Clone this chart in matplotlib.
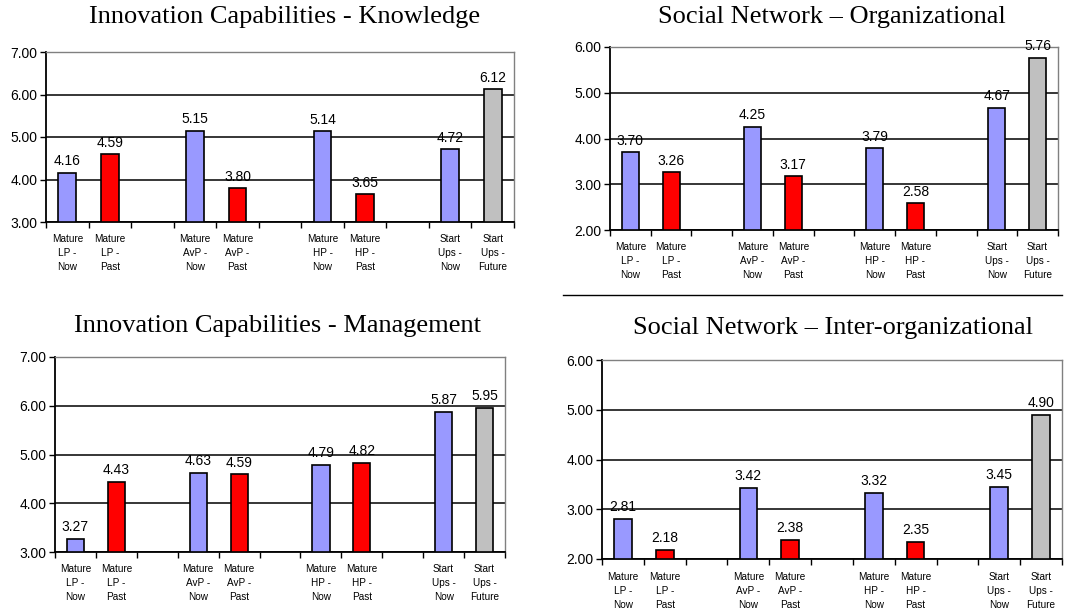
import numpy as np
import matplotlib
matplotlib.use("Agg")
from matplotlib import pyplot as plt
from matplotlib.lines import Line2D

plt.rcParams["font.family"] = ["Liberation Sans", "DejaVu Sans"]

W, H = 1069, 609

categories = [
    "Mature\nLP -\nNow", "Mature\nLP -\nPast", "",
    "Mature\nAvP -\nNow", "Mature\nAvP -\nPast", "",
    "Mature\nHP -\nNow", "Mature\nHP -\nPast", "",
    "Start\nUps -\nNow", "Start\nUps -\nFuture",
]
bar_colors = ["#9999FF", "#FF0000", None, "#9999FF", "#FF0000", None,
              "#9999FF", "#FF0000", None, "#9999FF", "#C0C0C0"]

knowledge = [4.16, 4.59, None, 5.15, 3.80, None, 5.14, 3.65, None, 4.72, 6.12]
organizational = [3.70, 3.26, None, 4.25, 3.17, None, 3.79, 2.58, None, 4.67, 5.76]
management = [3.27, 4.43, None, 4.63, 4.59, None, 4.79, 4.82, None, 5.87, 5.95]
inter_org = [2.81, 2.18, None, 3.42, 2.38, None, 3.32, 2.35, None, 3.45, 4.90]

# (title, values, ymin, ymax, axes box in px: left, top, right, bottom, title x, title y)
panels = [
    ("Innovation Capabilities - Knowledge", knowledge, 3, 7, (46, 52, 514, 222), (285, 17)),
    ("Social Network \u2013 Organizational", organizational, 2, 6, (610, 47, 1058, 230), (832, 17)),
    ("Innovation Capabilities - Management", management, 3, 7, (55, 357, 505, 552), (277, 326)),
    ("Social Network \u2013 Inter-organizational", inter_org, 2, 6, (602, 360, 1062, 559), (833, 328)),
]

fig = plt.figure(figsize=(W / 100, H / 100), dpi=100)

for title, values, ymin, ymax, box, tpos in panels:
    l, t, r, b = box
    ax = fig.add_axes([l / W, 1 - b / H, (r - l) / W, (b - t) / H])
    x = np.arange(len(categories))
    for i, v in enumerate(values):
        if v is None:
            continue
        ax.bar(x[i], v - ymin, bottom=ymin, width=0.42, color=bar_colors[i],
               edgecolor="black", linewidth=1.2, zorder=3)
        ax.text(x[i], v + (ymax - ymin) * 0.025, f"{v:.2f}", ha="center",
                va="bottom", fontsize=10, zorder=4)
    ax.set_xlim(-0.5, len(categories) - 0.5)
    ax.set_ylim(ymin, ymax)
    ax.set_yticks(np.arange(ymin, ymax + 1))
    ax.set_yticklabels([f"{v:.2f}" for v in np.arange(ymin, ymax + 1)], fontsize=10)
    ax.yaxis.grid(True, color="black", linewidth=1.1, zorder=0)
    ax.set_xticks(x)
    ax.set_xticklabels(categories, fontsize=7.2, linespacing=1.5)
    ax.set_xticks(np.arange(-0.5, len(categories)), minor=True)
    ax.tick_params(axis="x", which="major", length=0, pad=9)
    ax.tick_params(axis="x", which="minor", length=4, width=1, direction="out")
    ax.tick_params(axis="y", length=4, width=1, direction="out", pad=2)
    for s in ["left", "bottom"]:
        ax.spines[s].set_color("black")
        ax.spines[s].set_linewidth(1.3)
    for s in ["top", "right"]:
        ax.spines[s].set_color("#808080")
        ax.spines[s].set_linewidth(1.0)
    fig.text(tpos[0] / W, 1 - tpos[1] / H, title, ha="center", va="center",
             fontsize=19, family=["Liberation Serif", "DejaVu Serif"])

fig.add_artist(Line2D([563 / W, 1062 / W], [1 - 295 / H, 1 - 295 / H],
                      color="black", linewidth=1.0))

fig.savefig("out.png", dpi=100)
